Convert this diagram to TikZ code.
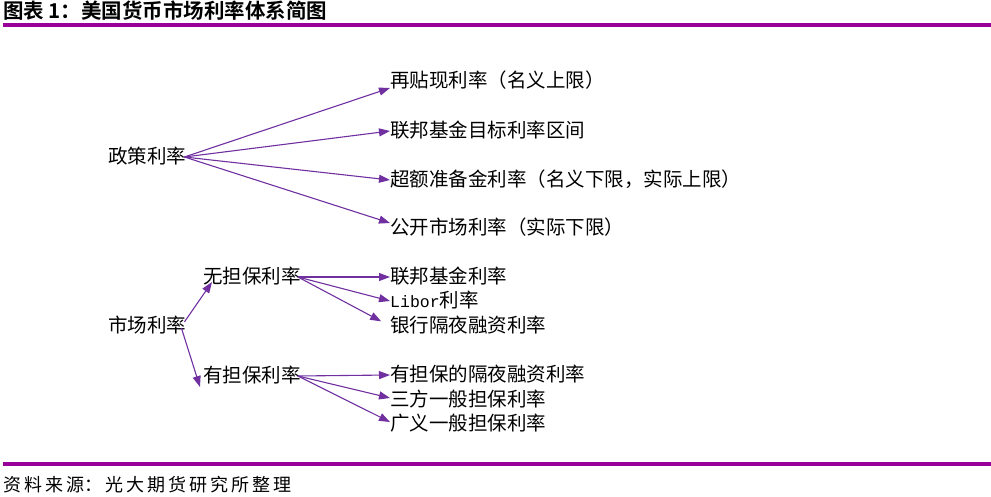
\documentclass[tikz,border=0pt]{standalone}
\usepackage{fontspec}
\setmainfont{Noto Sans CJK SC}
\newfontfamily\titlefont{Noto Sans CJK SC Bold}
\setmonofont{Liberation Mono}
\usetikzlibrary{arrows.meta}
\definecolor{barpurple}{RGB}{153,0,153}
\definecolor{arrpurple}{RGB}{112,48,160}

\begin{document}
\begin{tikzpicture}[x=1pt,y=-1pt,
    lbl/.style={anchor=west,inner sep=0pt,font=\fontsize{19.5}{20}\selectfont,
      text height=1.35em,text depth=0em},
    arr/.style={draw=arrpurple,line width=1.1pt,-{Triangle[length=11pt,width=8pt]}}]
      \useasboundingbox (0,0) rectangle (991,497);
      \draw[barpurple,line width=4pt] (3,25) -- (991,25);
      \draw[barpurple,line width=3.5pt] (3,464) -- (991,464);
      \node[anchor=west,inner sep=0pt,font=\titlefont\fontsize{20.5}{22}\selectfont] (title) at (3,11) {图表 1：美国货币市场利率体系简图};
      \node[lbl,font=\fontsize{18}{20}\selectfont] (src) at (3,485) {资\,料\,来\,源：\,光\,大\,期\,货\,研\,究\,所\,整\,理};
      % policy rates
      \node[lbl] (zc) at (108,157) {政策利率};
      \node[lbl] (zc1) at (390,81) {再贴现利率（名义上限）};
      \node[lbl] (zc2) at (390,131) {联邦基金目标利率区间};
      \node[lbl] (zc3) at (390,180) {超额准备金利率（名义下限，实际上限）};
      \node[lbl] (zc4) at (390,228) {公开市场利率（实际下限）};
      \draw[arr] ([xshift=-2pt]zc.east) -- ([yshift=-7pt]zc1.west);
      \draw[arr] ([xshift=-2pt]zc.east) -- (zc2.west);
      \draw[arr] ([xshift=-2pt]zc.east) -- (zc3.west);
      \draw[arr] ([xshift=-2pt]zc.east) -- ([yshift=5pt]zc4.west);
      % market rates
      \node[lbl] (sc) at (108,326) {市场利率};
      \node[lbl] (wdb) at (203,277) {无担保利率};
      \node[lbl] (ydb) at (203,376) {有担保利率};
      \draw[arr] ([xshift=-2pt,yshift=4pt]sc.east) -- ([xshift=9pt,yshift=-5pt]wdb.west);
      \draw[arr] ([xshift=-5pt,yshift=-2pt]sc.east) -- ([xshift=-3pt,yshift=-11pt]ydb.west);
      \node[lbl] (w1) at (390,277) {联邦基金利率};
      \node[lbl] (w2) at (390,301) {{\ttfamily\fontsize{16.5}{20}\selectfont Libor}利率};
      \node[lbl] (w3) at (390,326) {银行隔夜融资利率};
      \draw[arr] ([xshift=-3pt]wdb.east) -- (w1.west);
      \draw[arr] ([xshift=-3pt]wdb.east) -- (w2.west);
      \draw[arr,shorten >=10pt] ([xshift=-3pt]wdb.east) -- (w3.west);
      \node[lbl] (y1) at (390,375) {有担保的隔夜融资利率};
      \node[lbl] (y2) at (390,400) {三方一般担保利率};
      \node[lbl] (y3) at (390,424) {广义一般担保利率};
      \draw[arr] ([xshift=-3pt]ydb.east) -- (y1.west);
      \draw[arr] ([xshift=-3pt]ydb.east) -- ([yshift=2pt]y2.west);
      \draw[arr] ([xshift=-3pt]ydb.east) -- ([yshift=2pt]y3.west);
    \end{tikzpicture}
\end{document}
